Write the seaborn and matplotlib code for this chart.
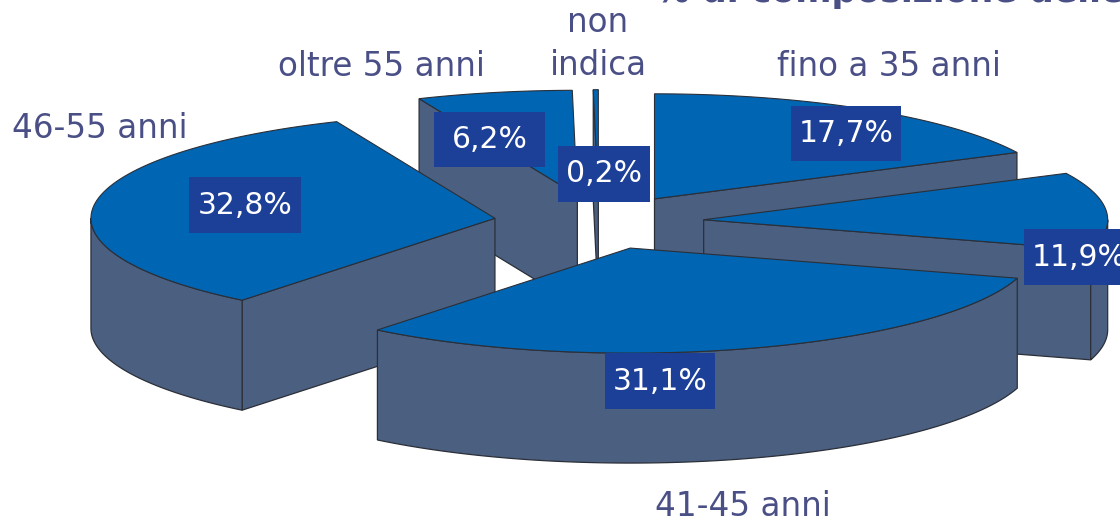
# exploded 3D pie: age composition

import numpy as np
import matplotlib
matplotlib.use("Agg")
import matplotlib.pyplot as plt
from matplotlib.patches import Rectangle
import seaborn as sns

# data (the 11,9% slice has no visible name in the picture)
categories = ["fino a 35 anni", "", "41-45 anni", "46-55 anni", "oltre 55 anni", "non\nindica"]
values = [17.7, 11.9, 31.1, 32.8, 6.2, 0.2]
value_labels = ["17,7%", "11,9%", "31,1%", "32,8%", "6,2%", "0,2%"]
title = "% di composizione delle"

# layout, in pixels of the 1120x523 picture
cx, cy = 599, 222
rx, ry = 404, 105
depth = 110
explode = 0.26
draw_order = [4, 5, 0, 1, 3, 2]
name_pos = [(889, 67), (0, 0), (743, 506), (100, 128), (381, 67), (598, 44)]
box_pos = [(791, 106, 110, 55), (1024, 229, 110, 56), (605, 353, 110, 56),
           (189, 177, 112, 56), (434, 112, 111, 55), (558, 146, 92, 56)]

top_color = "#0066b3"
side_color = "#4b5f80"
edge_color = "#2b2f38"
box_color = "#1c3f98"
text_color = "#4a4f86"

sns.set_theme(style="white")
plt.rcParams["font.family"] = ["DejaVu Sans"]

fig, ax = plt.subplots(figsize=(11.2, 5.23), dpi=100)
fig.subplots_adjust(0, 0, 1, 1)
ax.set_xlim(0, 1120)
ax.set_ylim(523, 0)
ax.axis("off")


def rim(ox, oy, a0, a1, n=80):
    t = np.radians(np.linspace(a0, a1, n))
    return ox + rx * np.sin(t), oy - ry * np.cos(t)


def cut_face(ox, oy, a):
    ex, ey = rim(ox, oy, a, a, 1)
    ax.fill([ox, ex[0], ex[0], ox], [oy, ey[0], ey[0] + depth, oy + depth],
            color=side_color, ec=edge_color, lw=0.9)


# start and end angle of every slice, clockwise from 12 o'clock
angles = np.concatenate([[0], np.cumsum(values)]) / np.sum(values) * 360

for i in draw_order:
    a0, a1 = angles[i], angles[i + 1]
    mid = np.radians((a0 + a1) / 2)
    ox = cx + explode * rx * np.sin(mid)
    oy = cy - explode * ry * np.cos(mid)

    # only the cut faces turned to the viewer
    if np.sin(np.radians(a0)) < 0:
        cut_face(ox, oy, a0)
    if np.sin(np.radians(a1)) > 0:
        cut_face(ox, oy, a1)

    # outer wall, only the part that faces front
    f0, f1 = max(a0, 90), min(a1, 270)
    if f1 > f0:
        wx, wy = rim(ox, oy, f0, f1)
        ax.fill(np.r_[wx, wx[::-1]], np.r_[wy, wy[::-1] + depth],
                color=side_color, ec=edge_color, lw=0.9)

    # top
    tx, ty = rim(ox, oy, a0, a1)
    ax.fill(np.r_[ox, tx], np.r_[oy, ty], color=top_color, ec=edge_color, lw=0.8)

for name, pos in zip(categories, name_pos):
    if name:
        ax.text(pos[0], pos[1], name, color=text_color, fontsize=23.5, ha="center",
                va="center", linespacing=1.4)

for lab, (x, y, w, h) in zip(value_labels, box_pos):
    ax.add_patch(Rectangle((x, y), w, h, color=box_color, lw=0, zorder=5))
    ax.text(x + w / 2, y + h / 2, lab, color="white", fontsize=21.5, ha="center",
            va="center", zorder=6)

ax.text(655, 2, title, color=text_color, fontsize=25, fontweight="bold", ha="left",
        va="baseline")

fig.savefig("out.png", dpi=100)
